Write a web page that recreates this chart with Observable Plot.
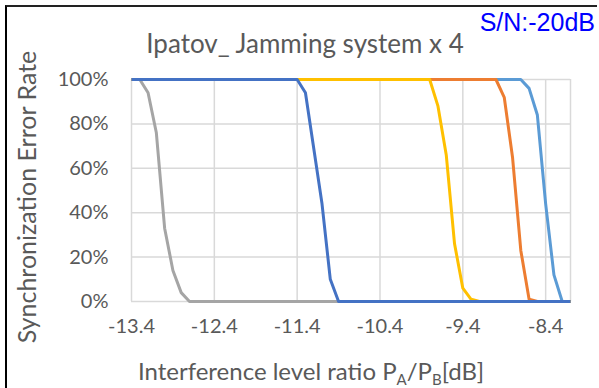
<!DOCTYPE html>
<html><head><meta charset="utf-8">
<script src="https://cdn.jsdelivr.net/npm/d3@7"></script>
<script src="https://cdn.jsdelivr.net/npm/@observablehq/plot@0.6"></script>
<style>
body{margin:0;background:#fff;}
#wrap{position:relative;width:599px;height:388px;overflow:hidden;font-family:Lato,"Open Sans",sans-serif;color:#595959;}
#frame{position:absolute;left:5px;top:5px;width:592px;height:400px;border-left:2px solid #000;border-top:2px solid #222;box-sizing:border-box;}
#chart{position:absolute;left:0;top:0;}
.t{position:absolute;white-space:nowrap;}
#title{left:305px;top:43px;transform:translate(-50%,-50%);font-size:26px;}
#sn{right:4px;top:22px;transform:translateY(-50%);font-family:"Liberation Sans",Arial,sans-serif;font-size:25px;color:#0000ff;}
#ytitle{left:26px;top:197px;transform:translate(-50%,-50%) rotate(-90deg);font-size:25px;}
#xtitle{left:311px;top:370px;transform:translate(-50%,-50%);font-size:24px;}
#xtitle sub{font-size:15px;vertical-align:-5px;line-height:0;}
</style></head>
<body>
<div id="wrap">
  <div id="chart"></div>
  <div id="frame"></div>
  <div class="t" id="title">Ipatov_ Jamming system x 4</div>
  <div class="t" id="sn">S/N:-20dB</div>
  <div class="t" id="ytitle">Synchronization Error Rate</div>
  <div class="t" id="xtitle">Interference level ratio P<sub>A</sub>/P<sub>B</sub>[dB]</div>
</div>
<script>
// Tick positions
const xTicks = [-13.4, -12.4, -11.4, -10.4, -9.4, -8.4];
const yTicks = [0, 20, 40, 60, 80, 100];
const xDomain = [-13.4, -8.1];

// Series (x in dB, y in %)
const xLightBlue = [-13.4, -8.7, -8.6, -8.5, -8.4, -8.3, -8.2, -8.1];
const yLightBlue = [100, 100, 96, 84, 44, 12, 0, 0];
const xOrange = [-13.4, -9.0, -8.9, -8.8, -8.7, -8.6, -8.5, -8.1];
const yOrange = [100, 100, 92, 65, 23, 1, 0, 0];
const xYellow = [-13.4, -9.8, -9.7, -9.6, -9.5, -9.4, -9.3, -9.2, -8.1];
const yYellow = [100, 100, 88, 66, 26, 6, 1, 0, 0];
const xGray = [-13.4, -13.3, -13.2, -13.1, -13.0, -12.9, -12.8, -12.7, -8.1];
const yGray = [100, 100, 94, 76, 33, 14, 4, 0, 0];
const xDarkBlue = [-13.4, -11.4, -11.3, -11.2, -11.1, -11.0, -10.9, -8.1];
const yDarkBlue = [100, 100, 94, 69, 44, 10, 0, 0];

const series = [
  {xs: xLightBlue, ys: yLightBlue, color: "#5B9BD5"},
  {xs: xOrange, ys: yOrange, color: "#ED7D31"},
  {xs: xYellow, ys: yYellow, color: "#FFC000"},
  {xs: xGray, ys: yGray, color: "#A5A5A5"},
  {xs: xDarkBlue, ys: yDarkBlue, color: "#4472C4"}
];

const lineMarks = series.map(s =>
  Plot.line(s.xs.map((x, i) => ({x, y: s.ys[i]})),
    {x: "x", y: "y", stroke: s.color, strokeWidth: 3, strokeLinejoin: "round", strokeLinecap: "butt"})
);

const chart = Plot.plot({
  width: 599, height: 388,
  marginLeft: 131, marginRight: 29, marginTop: 79, marginBottom: 87,
  style: {fontFamily: "Lato, 'Open Sans', sans-serif", fontSize: "20px", color: "#595959", background: "transparent"},
  x: {domain: xDomain},
  y: {domain: [0, 100]},
  marks: [
    Plot.ruleX([...xTicks, xDomain[1]], {stroke: "#d9d9d9", strokeWidth: 1.5}),
    Plot.ruleY(yTicks, {stroke: "#d9d9d9", strokeWidth: 1.5}),
    Plot.axisX(xTicks, {tickSize: 0, tickPadding: 17, label: null, tickFormat: d => d.toFixed(1).replace("\u2212", "-")}),
    Plot.axisY(yTicks, {tickSize: 0, tickPadding: 23, label: null, tickFormat: d => d + "%"}),
    ...lineMarks
  ]
});
document.getElementById("chart").appendChild(chart);
</script>
</body></html>
